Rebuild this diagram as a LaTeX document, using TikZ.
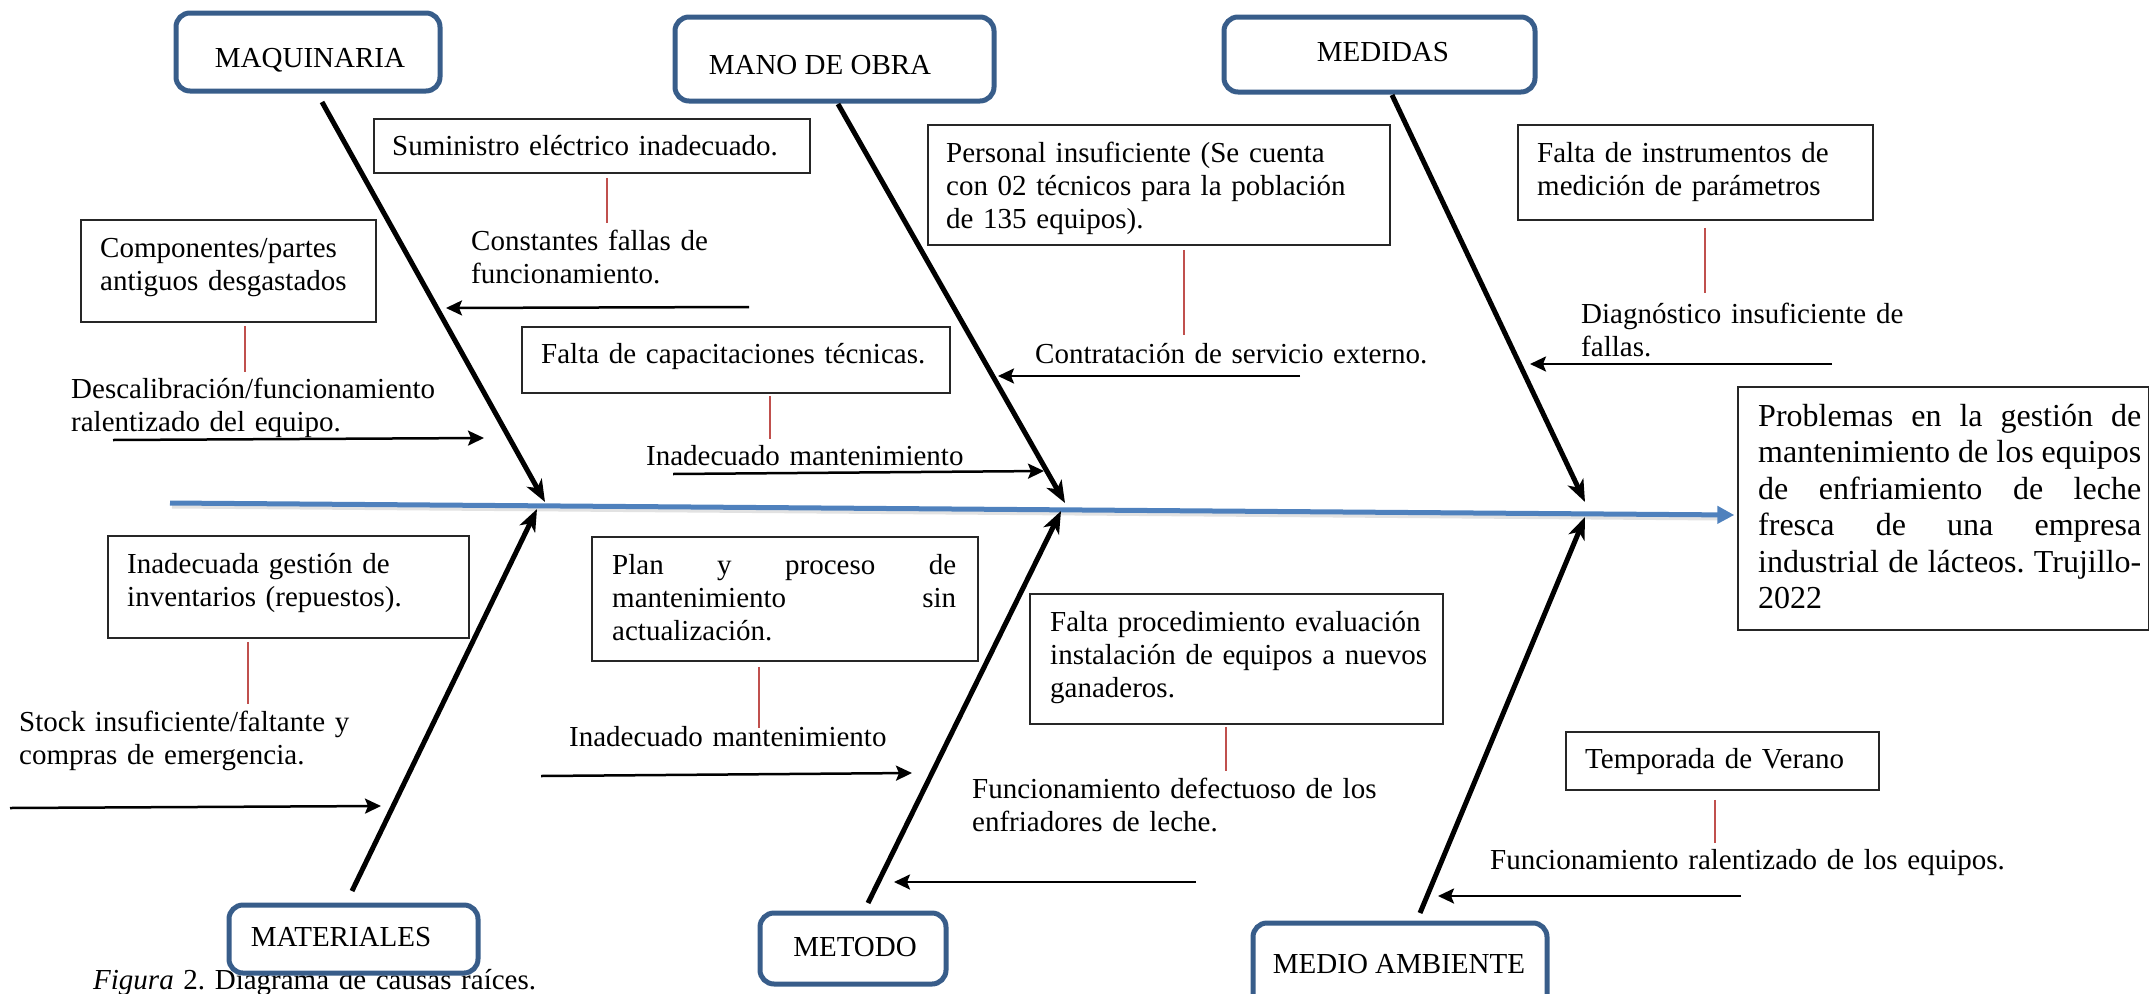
\documentclass[tikz,border=0pt]{standalone}
\usepackage{fontspec}
\setmainfont{Liberation Serif}
\usetikzlibrary{arrows.meta}
\definecolor{catblue}{RGB}{56,93,138}
\definecolor{spineblue}{RGB}{79,129,189}
\definecolor{redl}{RGB}{192,80,77}
\frenchspacing
\begin{document}
\begin{tikzpicture}[x=1pt,y=-1pt,
  font=\fontsize{29}{33}\selectfont\frenchspacing,
  cat/.style={draw=catblue, line width=5pt, rounded corners=14pt, fill=white, inner sep=0pt, anchor=center},
  cause/.style={draw=black!85, line width=1.8pt, inner sep=0pt, anchor=north west},
  lbl/.style={anchor=base west, inner sep=0pt, align=left, text width=560pt},
  ctr/.style={anchor=base, inner sep=0pt},
  bone/.style={line width=5pt, -{Stealth[length=22pt,width=17pt,inset=6pt]}},
  sub/.style={line width=2.5pt, -{Stealth[length=16pt,width=15pt,inset=3pt]}},
  rl/.style={draw=redl, line width=1.5pt}]
\useasboundingbox (0,0) rectangle (2149,993);

% caption (partly hidden behind MATERIALES box)
\node[lbl] (cap) at (93,989) {\textit{Figura} 2. Diagrama de causas raíces.};

% spine
\coordinate (sp0) at (170,503);
\node[inner sep=0pt] (head) at (1735,515) {};
\draw[gray!45, line width=5pt, opacity=0.5] ([shift={(2,3)}]sp0) -- ([shift={(-14,3)}]head.center);
\draw[spineblue, line width=5pt, -{Triangle[length=17pt,width=17pt]}] (sp0) -- (head);

% category boxes
\node[cat, minimum width=264pt, minimum height=78pt] (maq) at (308,52) {};
\node[cat, minimum width=319pt, minimum height=84pt] (mano) at (834.5,59) {};
\node[cat, minimum width=311pt, minimum height=75pt] (med) at (1379.5,54.5) {};
\node[cat, minimum width=249pt, minimum height=68pt] (mat) at (353.5,939) {};
\node[cat, minimum width=186pt, minimum height=71pt] (met) at (853,948.5) {};
\node[cat, minimum width=294pt, minimum height=87pt] (amb) at (1400,966.5) {};
\node[ctr] (maqt) at (310,67) {MAQUINARIA};
\node[ctr] (manot) at (820,74) {MANO DE OBRA};
\node[ctr] (medt) at (1383,61) {MEDIDAS};
\node[ctr] (matt) at (341,946) {MATERIALES};
\node[ctr] (mett) at (855,956) {METODO};
\node[ctr] (ambt) at (1399,973) {MEDIO AMBIENTE};

% bones
\coordinate (b1s) at (322,102);  \coordinate (b1e) at (545,502);
\coordinate (b2s) at (838,104);  \coordinate (b2e) at (1065,503);
\coordinate (b3s) at (1392,95);  \coordinate (b3e) at (1585,502);
\coordinate (b4s) at (352,891);  \coordinate (b4e) at (537,509);
\coordinate (b5s) at (868,903);  \coordinate (b5e) at (1061,511);
\coordinate (b6s) at (1420,913); \coordinate (b6e) at (1585,517);
\draw[bone] (b1s) -- (b1e);
\draw[bone] (b2s) -- (b2e);
\draw[bone] (b3s) -- (b3e);
\draw[bone] (b4s) -- (b4e);
\draw[bone] (b5s) -- (b5e);
\draw[bone] (b6s) -- (b6e);

% cause boxes
\node[cause, minimum width=436pt, minimum height=54pt] (sumin) at (373,118) {};
\node[cause, minimum width=295pt, minimum height=102pt] (compon) at (80,219) {};
\node[cause, minimum width=428pt, minimum height=66pt] (capac) at (521,326) {};
\node[cause, minimum width=462pt, minimum height=120pt] (perso) at (927,124) {};
\node[cause, minimum width=355pt, minimum height=95pt] (instr) at (1517,124) {};
\node[cause, minimum width=411pt, minimum height=243pt] (probl) at (1737,386) {};
\node[cause, minimum width=361pt, minimum height=102pt] (inven) at (107,535) {};
\node[cause, minimum width=386pt, minimum height=124pt] (plan) at (591,536) {};
\node[cause, minimum width=413pt, minimum height=130pt] (proce) at (1029,593) {};
\node[cause, minimum width=313pt, minimum height=58pt] (tempo) at (1565,731) {};

% cause texts
\node[lbl] (t1) at (392,155) {Suministro eléctrico inadecuado.};
\node[lbl] (t2) at (100,257) {Componentes/partes\\antiguos desgastados};
\node[lbl] (t3) at (541,363) {Falta de capacitaciones técnicas.};
\node[lbl] (t4) at (946,162) {Personal insuficiente (Se cuenta\\con 02 técnicos para la población\\de 135 equipos).};
\node[lbl] (t5) at (1537,162) {Falta de instrumentos de\\medición de parámetros};
\node[lbl] (t6) at (127,573) {Inadecuada gestión de\\inventarios (repuestos).};
\node[lbl, text width=344pt] (t7) at (612,574) {Plan\hfill y\hfill proceso\hfill de\\mantenimiento\hfill sin\\actualización.};
\node[lbl] (t8) at (1050,631) {Falta procedimiento evaluación\\instalación de equipos a nuevos\\ganaderos.};
\node[lbl] (t9) at (1585,768) {Temporada de Verano};
\node[lbl, text width=383pt, font=\fontsize{32}{36.5}\selectfont\frenchspacing] (t10) at (1758,426)
  {Problemas\hfill en\hfill la\hfill gestión\hfill de\\mantenimiento\hfill de\hfill los\hfill equipos\\de\hfill enfriamiento\hfill de\hfill leche\\fresca\hfill de\hfill una\hfill empresa\\industrial\hfill de\hfill lácteos.\hfill Trujillo-\\2022};

% effect labels
\node[lbl] (e1) at (471,250) {Constantes fallas de\\funcionamiento.};
\node[lbl] (e2) at (71,398) {Descalibración/funcionamiento\\ralentizado del equipo.};
\node[lbl] (e3) at (646,465) {Inadecuado mantenimiento};
\node[lbl] (e4) at (1035,363) {Contratación de servicio externo.};
\node[lbl] (e5) at (1581,323) {Diagnóstico insuficiente de\\fallas.};
\node[lbl] (e6) at (19,731) {Stock insuficiente/faltante y\\compras de emergencia.};
\node[lbl] (e7) at (569,746) {Inadecuado mantenimiento};
\node[lbl] (e8) at (972,798) {Funcionamiento defectuoso de los\\enfriadores de leche.};
\node[lbl] (e9) at (1490,869) {Funcionamiento ralentizado de los equipos.};

% red links
\coordinate (r1) at (607,223);  \draw[rl, shorten <=4pt] (sumin.south -| r1) -- (r1);
\coordinate (r2) at (245,372);  \draw[rl, shorten <=3pt] (compon.south -| r2) -- (r2);
\coordinate (r3) at (770,439);  \draw[rl, shorten <=2pt] (capac.south -| r3) -- (r3);
\coordinate (r4) at (1184,335); \draw[rl, shorten <=4pt] (perso.south -| r4) -- (r4);
\coordinate (r5) at (1705,293); \draw[rl, shorten <=7pt] (instr.south -| r5) -- (r5);
\coordinate (r6) at (248,704);  \draw[rl, shorten <=3pt] (inven.south -| r6) -- (r6);
\coordinate (r7) at (759,728);  \draw[rl, shorten <=5pt] (plan.south -| r7) -- (r7);
\coordinate (r8) at (1226,771); \draw[rl, shorten <=2pt] (proce.south -| r8) -- (r8);
\coordinate (r9) at (1715,843); \draw[rl, shorten <=9pt] (tempo.south -| r9) -- (r9);

% sub-cause arrows
\coordinate (a1s) at (749,307);  \coordinate (a1e) at (446,308);
\coordinate (a2s) at (113,440);  \coordinate (a2e) at (484,438);
\coordinate (a3s) at (673,474);  \coordinate (a3e) at (1044,471);
\coordinate (a4s) at (1300,376); \coordinate (a4e) at (998,376);
\coordinate (a5s) at (1832,364); \coordinate (a5e) at (1530,364);
\coordinate (a6s) at (10,808);   \coordinate (a6e) at (381,806);
\coordinate (a7s) at (541,776);  \coordinate (a7e) at (912,773);
\coordinate (a8s) at (1196,882); \coordinate (a8e) at (894,882);
\coordinate (a9s) at (1741,896); \coordinate (a9e) at (1438,896);
\foreach \i in {1,...,9} {\draw[sub] (a\i s) -- (a\i e);}
\end{tikzpicture}
\end{document}
